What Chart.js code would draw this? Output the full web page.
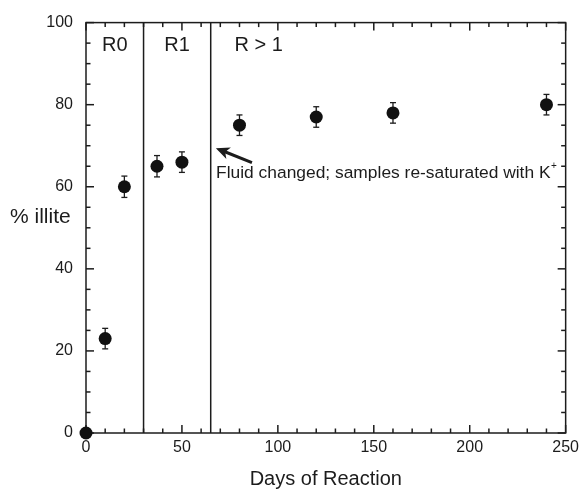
<!DOCTYPE html>
<html>
<head>
<meta charset="utf-8">
<script src="https://cdn.jsdelivr.net/npm/chart.js@4/dist/chart.umd.min.js"></script>
<style>
  html, body { margin: 0; padding: 0; background: #fff; }
</style>
</head>
<body>
<canvas id="chart" width="584" height="489"></canvas>
<script>
// days of reaction vs % illite, with error bars
const days = [0, 10, 20, 37, 50, 80, 120, 160, 240];
const illite = [0, 23, 60, 65, 66, 75, 77, 78, 80];
const errs = [0, 2.5, 2.6, 2.6, 2.5, 2.5, 2.5, 2.5, 2.5];

const xTicks = [0, 50, 100, 150, 200, 250];
const yTicks = [0, 20, 40, 60, 80, 100];

// regime boundaries (days) and their labels
const boundaries = [30, 65];
const zoneLabels = ['R0', 'R1', 'R > 1'];
const noteText = 'Fluid changed; samples re-saturated with K';

const INK = '#1c1c1c';
const FONT = '"Liberation Sans", Arial, Helvetica, sans-serif';

const decor = {
  id: 'decor',
  beforeDatasetsDraw(chart) {
    const ctx = chart.ctx;
    const a = chart.chartArea;
    const x = chart.scales.x, y = chart.scales.y;
    const line = (x1, y1, x2, y2) => { ctx.beginPath(); ctx.moveTo(x1, y1); ctx.lineTo(x2, y2); ctx.stroke(); };
    ctx.save();
    ctx.strokeStyle = INK;
    ctx.lineWidth = 1.5;

    boundaries.forEach(d => {
      const px = x.getPixelForValue(d);
      line(px, a.top, px, a.bottom);
    });

    // inward ticks on all four sides
    for (let v = 0; v <= 250; v += 10) {
      const px = x.getPixelForValue(v);
      const len = v % 50 === 0 ? 8 : 4.5;
      line(px, a.bottom, px, a.bottom - len);
      line(px, a.top, px, a.top + len);
    }
    for (let v = 0; v <= 100; v += 5) {
      const py = y.getPixelForValue(v);
      const len = v % 20 === 0 ? 8 : 4.5;
      line(a.left, py, a.left + len, py);
      line(a.right, py, a.right - len, py);
    }
    ctx.strokeRect(a.left, a.top, a.width, a.height);

    // error bars
    ctx.lineWidth = 1.3;
    days.forEach((d, i) => {
      if (!errs[i]) return;
      const px = x.getPixelForValue(d);
      const y1 = y.getPixelForValue(illite[i] + errs[i]);
      const y2 = y.getPixelForValue(illite[i] - errs[i]);
      line(px, y1, px, y2);
      line(px - 3, y1, px + 3, y1);
      line(px - 3, y2, px + 3, y2);
    });

    // regime labels
    ctx.fillStyle = INK;
    ctx.font = '20px ' + FONT;
    ctx.textAlign = 'center';
    ctx.textBaseline = 'middle';
    const zoneX = [15, 47.5, 90];
    zoneLabels.forEach((t, i) => ctx.fillText(t, x.getPixelForValue(zoneX[i]), y.getPixelForValue(94.5)));

    // y axis title, horizontal
    ctx.font = '21px ' + FONT;
    ctx.textAlign = 'left';
    ctx.fillText('% illite', 10, y.getPixelForValue(52.5));

    // annotation
    ctx.font = '17.4px ' + FONT;
    ctx.textBaseline = 'alphabetic';
    const nx = x.getPixelForValue(67.8), ny = y.getPixelForValue(62.2);
    ctx.fillText(noteText, nx, ny);
    const w = ctx.measureText(noteText).width;
    ctx.font = '10px ' + FONT;
    ctx.fillText('+', nx + w + 0.5, ny - 9);

    // arrow
    const tx = x.getPixelForValue(67.7), ty = y.getPixelForValue(69.4);
    const sx = x.getPixelForValue(86.5), sy = y.getPixelForValue(65.9);
    ctx.lineWidth = 3;
    const ang = Math.atan2(ty - sy, tx - sx);
    line(sx, sy, tx - 9 * Math.cos(ang), ty - 9 * Math.sin(ang));
    ctx.beginPath();
    ctx.moveTo(tx, ty);
    ctx.lineTo(tx - 15 * Math.cos(ang - 0.42), ty - 15 * Math.sin(ang - 0.42));
    ctx.lineTo(tx - 10 * Math.cos(ang), ty - 10 * Math.sin(ang));
    ctx.lineTo(tx - 15 * Math.cos(ang + 0.42), ty - 15 * Math.sin(ang + 0.42));
    ctx.closePath();
    ctx.fill();
    ctx.restore();
  }
};

new Chart(document.getElementById('chart'), {
  type: 'scatter',
  data: {
    datasets: [{
      label: '% illite',
      data: days.map((d, i) => ({ x: d, y: illite[i] })),
      pointRadius: 6.5,
      pointHoverRadius: 6.5,
      backgroundColor: '#111',
      borderWidth: 0,
      clip: false
    }]
  },
  options: {
    responsive: false,
    animation: false,
    layout: { padding: { top: 21, right: 15, left: 0, bottom: 0 } },
    plugins: { legend: { display: false }, tooltip: { enabled: false } },
    scales: {
      x: {
        type: 'linear',
        min: 0, max: 250,
        afterBuildTicks: s => { s.ticks = xTicks.map(v => ({ value: v })); },
        afterFit: s => { s.height = 56; },
        grid: { drawOnChartArea: false, drawTicks: false },
        border: { display: false },
        ticks: { padding: 5, color: INK, font: { family: FONT, size: 16 } },
        title: {
          display: true,
          text: 'Days of Reaction',
          color: INK,
          font: { family: FONT, size: 20, lineHeight: 1 },
          padding: { top: 0, bottom: 0 }
        }
      },
      y: {
        type: 'linear',
        min: 0, max: 100,
        afterBuildTicks: s => { s.ticks = yTicks.map(v => ({ value: v })); },
        afterFit: s => { s.width = 86; },
        grid: { drawOnChartArea: false, drawTicks: false },
        border: { display: false },
        ticks: { padding: 13, color: INK, font: { family: FONT, size: 16 } }
      }
    }
  },
  plugins: [decor]
});
</script>
</body>
</html>
